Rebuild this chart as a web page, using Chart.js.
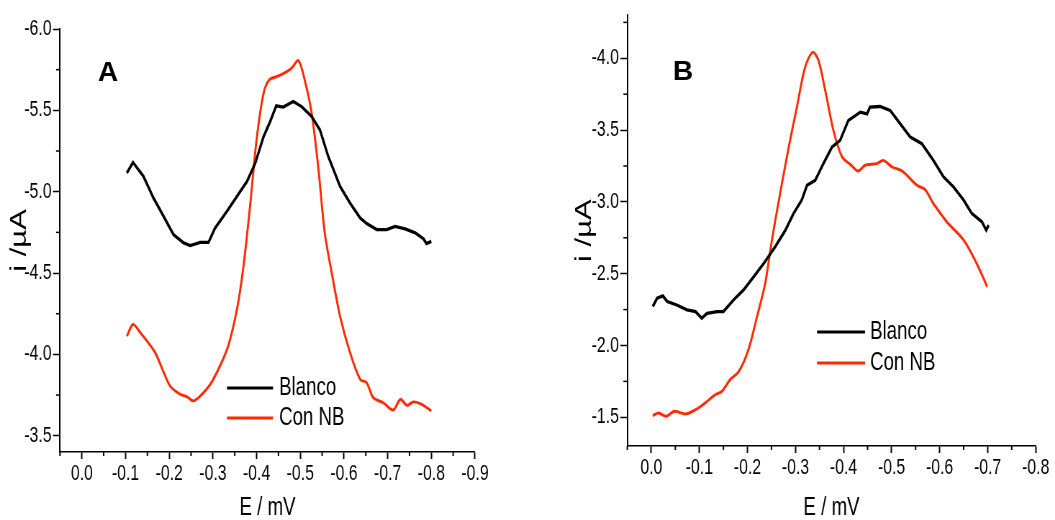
<!DOCTYPE html>
<html>
<head>
<meta charset="utf-8">
<script src="https://cdn.jsdelivr.net/npm/chart.js@4.4.1/dist/chart.umd.min.js"></script>
<style>
  html, body { margin: 0; padding: 0; background: #fff; }
  body { width: 1055px; height: 520px; position: relative; overflow: hidden; }
  .panel { position: absolute; top: 0; height: 520px; }
  #wrapA { left: 0; width: 565px; }
  #wrapB { left: 565px; width: 490px; }
</style>
</head>
<body>
<!-- The original figure is horizontally compressed; each canvas is drawn wider and shown at the figure's width. -->
<div class="panel" id="wrapA"><canvas id="chartA" width="785" height="520" style="width:565px;height:520px"></canvas></div>
<div class="panel" id="wrapB"><canvas id="chartB" width="681" height="520" style="width:490px;height:520px"></canvas></div>
<script>
// ---------- data (E in V, i in µA) ----------
const seriesNames = ['Blanco', 'Con NB'];

// Panel A
const potA_blanco = [-0.103,-0.117,-0.141,-0.164,-0.187,-0.21,-0.233,-0.248,-0.271,-0.29,-0.305,-0.332,-0.355,-0.378,-0.397,-0.416,-0.431,-0.445,-0.461,-0.484,-0.503,-0.526,-0.545,-0.564,-0.591,-0.614,-0.637,-0.652,-0.675,-0.698,-0.717,-0.74,-0.763,-0.782,-0.789,-0.80];
const curA_blanco = [-5.115,-5.18,-5.094,-4.961,-4.849,-4.736,-4.685,-4.669,-4.689,-4.689,-4.777,-4.879,-4.971,-5.063,-5.176,-5.339,-5.431,-5.528,-5.52,-5.554,-5.523,-5.462,-5.38,-5.217,-5.033,-4.93,-4.839,-4.804,-4.767,-4.767,-4.787,-4.771,-4.747,-4.71,-4.681,-4.695];
const potA_nb = [-0.103,-0.117,-0.134,-0.149,-0.168,-0.183,-0.202,-0.225,-0.24,-0.255,-0.271,-0.294,-0.316,-0.335,-0.355,-0.37,-0.385,-0.40,-0.416,-0.429,-0.446,-0.465,-0.48,-0.496,-0.511,-0.526,-0.541,-0.556,-0.572,-0.591,-0.614,-0.637,-0.652,-0.667,-0.69,-0.713,-0.729,-0.744,-0.759,-0.778,-0.80];
const curA_nb = [-4.112,-4.184,-4.133,-4.082,-4.01,-3.918,-3.806,-3.755,-3.74,-3.714,-3.744,-3.816,-3.928,-4.051,-4.276,-4.542,-4.91,-5.319,-5.605,-5.687,-5.707,-5.732,-5.759,-5.806,-5.677,-5.483,-5.155,-4.747,-4.501,-4.235,-4.01,-3.847,-3.826,-3.734,-3.703,-3.658,-3.724,-3.687,-3.708,-3.693,-3.652];

// Panel B
const potB_blanco = [-0.003,-0.012,-0.024,-0.033,-0.053,-0.074,-0.092,-0.105,-0.116,-0.137,-0.15,-0.171,-0.192,-0.213,-0.234,-0.258,-0.279,-0.296,-0.313,-0.324,-0.341,-0.358,-0.376,-0.393,-0.41,-0.435,-0.449,-0.455,-0.476,-0.497,-0.518,-0.539,-0.563,-0.587,-0.608,-0.629,-0.65,-0.667,-0.688,-0.697,-0.702];
const curB_blanco = [-2.271,-2.329,-2.345,-2.306,-2.282,-2.248,-2.236,-2.19,-2.224,-2.236,-2.236,-2.317,-2.387,-2.479,-2.572,-2.688,-2.803,-2.919,-3.012,-3.116,-3.15,-3.266,-3.382,-3.428,-3.567,-3.625,-3.613,-3.66,-3.664,-3.637,-3.544,-3.451,-3.405,-3.289,-3.174,-3.104,-3.012,-2.919,-2.861,-2.803,-2.838];
const potB_nb = [-0.003,-0.015,-0.031,-0.048,-0.071,-0.092,-0.112,-0.133,-0.147,-0.164,-0.182,-0.202,-0.22,-0.237,-0.251,-0.268,-0.286,-0.303,-0.32,-0.336,-0.348,-0.362,-0.379,-0.397,-0.414,-0.43,-0.445,-0.469,-0.483,-0.501,-0.522,-0.553,-0.57,-0.587,-0.615,-0.65,-0.677,-0.699];
const curB_nb = [-1.512,-1.53,-1.507,-1.542,-1.523,-1.553,-1.6,-1.657,-1.681,-1.762,-1.819,-1.97,-2.201,-2.433,-2.734,-3.058,-3.382,-3.66,-3.938,-4.042,-3.984,-3.775,-3.498,-3.313,-3.262,-3.215,-3.255,-3.266,-3.289,-3.243,-3.215,-3.116,-3.086,-2.988,-2.861,-2.734,-2.572,-2.41];

// Tick values
const xTicksA = [0, -0.1, -0.2, -0.3, -0.4, -0.5, -0.6, -0.7, -0.8, -0.9];
const xMinorA = [0.05, -0.05, -0.15, -0.25, -0.35, -0.45, -0.55, -0.65, -0.75, -0.85];
const yTicksA = [-6.0, -5.5, -5.0, -4.5, -4.0, -3.5];
const yMinorA = [-5.75, -5.25, -4.75, -4.25, -3.75];
const xTicksB = [0, -0.1, -0.2, -0.3, -0.4, -0.5, -0.6, -0.7, -0.8];
const xMinorB = [0.05, -0.05, -0.15, -0.25, -0.35, -0.45, -0.55, -0.65, -0.75];
const yTicksB = [-4.0, -3.5, -3.0, -2.5, -2.0, -1.5];
const yMinorB = [-4.25, -3.75, -3.25, -2.75, -2.25, -1.75];

// ---------- styling ----------
const FONT = "'Liberation Sans', Arial, sans-serif";
const COLORS = ['#000000', '#ff2a00'];
const WIDTHS = [3.3, 2.9];

const pairs = (xs, ys) => xs.map((x, i) => ({ x: x, y: ys[i] }));

// minor tick marks drawn through the scales
const minorTicksPlugin = {
  id: 'minorTicks',
  afterDraw(chart, args, opts) {
    const ctx = chart.ctx;
    const xs = chart.scales.x, ys = chart.scales.y;
    ctx.save();
    ctx.strokeStyle = '#000';
    ctx.lineWidth = 2;
    (opts.x || []).forEach(v => {
      const p = xs.getPixelForValue(v);
      ctx.beginPath(); ctx.moveTo(p, xs.top); ctx.lineTo(p, xs.top + opts.xLength); ctx.stroke();
    });
    ctx.lineWidth = 1.5;
    (opts.y || []).forEach(v => {
      const p = ys.getPixelForValue(v);
      ctx.beginPath(); ctx.moveTo(ys.right, p); ctx.lineTo(ys.right - opts.yLength, p); ctx.stroke();
    });
    ctx.restore();
  }
};

// legend drawn inside the plot
const insetLegendPlugin = {
  id: 'insetLegend',
  afterDraw(chart, args, opts) {
    const ctx = chart.ctx;
    ctx.save();
    ctx.font = opts.font;
    ctx.textBaseline = 'middle';
    ctx.textAlign = 'left';
    chart.data.datasets.forEach((ds, i) => {
      const y = opts.y + i * opts.rowHeight;
      ctx.strokeStyle = ds.borderColor;
      ctx.lineWidth = 3;
      ctx.beginPath(); ctx.moveTo(opts.x, y); ctx.lineTo(opts.x + opts.lineLength, y); ctx.stroke();
      ctx.fillStyle = '#000';
      ctx.fillText(ds.label, opts.x + opts.lineLength + opts.gap, y);
    });
    ctx.restore();
  }
};

// panel letter (not compressed in the original, so undo the canvas stretch)
const panelLabelPlugin = {
  id: 'panelLabel',
  afterDraw(chart, args, opts) {
    const ctx = chart.ctx;
    ctx.save();
    ctx.translate(opts.x, opts.y);
    ctx.scale(1 / opts.squeeze, 1);
    ctx.font = 'bold 28px ' + FONT;
    ctx.fillStyle = '#000';
    ctx.textAlign = 'center';
    ctx.textBaseline = 'middle';
    ctx.fillText(opts.text, 0, 0);
    ctx.restore();
  }
};

function makeChart(canvasId, cfg) {
  const datasets = cfg.series.map((s, i) => ({
    label: seriesNames[i],
    data: pairs(s[0], s[1]),
    borderColor: COLORS[i],
    backgroundColor: COLORS[i],
    borderWidth: WIDTHS[i],
    pointRadius: 0,
    tension: i === 1 ? 0.3 : 0,
    fill: false
  }));
  return new Chart(document.getElementById(canvasId), {
    type: 'line',
    data: { datasets },
    plugins: [minorTicksPlugin, insetLegendPlugin, panelLabelPlugin],
    options: {
      responsive: false,
      animation: false,
      events: [],
      layout: { padding: cfg.padding },
      plugins: {
        legend: { display: false },
        tooltip: { enabled: false },
        minorTicks: { x: cfg.xMinor, y: cfg.yMinor, xLength: 4, yLength: 5.5 },
        insetLegend: cfg.legend,
        panelLabel: cfg.label
      },
      scales: {
        x: {
          type: 'linear',
          min: cfg.xMin, max: cfg.xMax,
          reverse: true,
          afterBuildTicks: s => { s.ticks = cfg.xTicks.map(v => ({ value: v })); },
          afterFit: s => { s.height = cfg.xHeight; },
          grid: { drawOnChartArea: false, drawTicks: true, tickLength: 7, tickWidth: 2, tickColor: '#000', color: '#000' },
          border: { display: true, color: '#000', width: 1.5 },
          ticks: {
            autoSkip: false, maxRotation: 0, padding: 2, color: '#000',
            font: { family: FONT, size: 22 },
            callback: v => Number(v).toFixed(1)
          },
          title: {
            display: true, text: 'E / mV', color: '#000',
            font: { family: FONT, size: 26 },
            padding: { top: 0, bottom: -3 }
          }
        },
        y: {
          type: 'linear',
          min: cfg.yMin, max: cfg.yMax,
          reverse: true,
          afterBuildTicks: s => { s.ticks = cfg.yTicks.map(v => ({ value: v })); },
          afterFit: s => { s.width = cfg.yWidth; },
          grid: { drawOnChartArea: false, drawTicks: true, tickLength: 9.7, tickWidth: 1.5, tickColor: '#000', color: '#000' },
          border: { display: true, color: '#000', width: 2 },
          ticks: {
            autoSkip: false, padding: 2, color: '#000',
            font: { family: FONT, size: 22 },
            callback: v => Number(v).toFixed(1)
          },
          title: {
            display: true, text: 'i /\u00b5A', color: '#000',
            font: { family: FONT, size: 31 },
            padding: { top: 9.2, bottom: 0 }
          }
        }
      }
    }
  });
}

// horizontal squeeze of each canvas (CSS width / bitmap width)
const kA = 565 / 785;
const kB = 490 / 681;

makeChart('chartA', {
  series: [[potA_blanco, curA_blanco], [potA_nb, curA_nb]],
  xMin: -0.9, xMax: 0.05, yMin: -6.0, yMax: -3.4,
  xTicks: xTicksA, xMinor: xMinorA, yTicks: yTicksA, yMinor: yMinorA,
  padding: { left: 0, top: 29, right: 785 - 475 / kA, bottom: 0 },
  xHeight: 68, yWidth: 60 / kA,
  legend: { x: 227 / kA, y: 388, rowHeight: 30, lineLength: 46 / kA, gap: 6 / kA, font: '26px ' + FONT },
  label: { text: 'A', x: 108 / kA, y: 73, squeeze: kA }
});

makeChart('chartB', {
  series: [[potB_blanco, curB_blanco], [potB_nb, curB_nb]],
  xMin: -0.8, xMax: 0.05, yMin: -4.3, yMax: -1.3,
  xTicks: xTicksB, xMinor: xMinorB, yTicks: yTicksB, yMinor: yMinorB,
  padding: { left: 0, top: 15, right: 681 - 470.7 / kB, bottom: 0 },
  xHeight: 74, yWidth: 62.3 / kB,
  legend: { x: 252 / kB, y: 332, rowHeight: 31, lineLength: 48 / kB, gap: 5 / kB, font: '26px ' + FONT },
  label: { text: 'B', x: 118 / kB, y: 72, squeeze: kB }
});
</script>
</body>
</html>
